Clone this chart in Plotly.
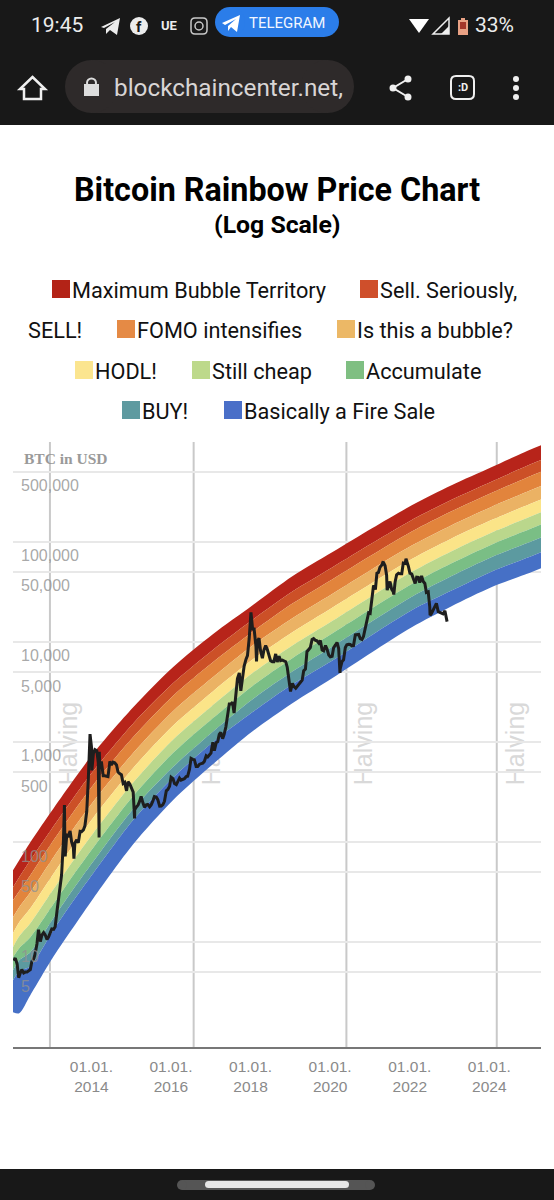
import pandas as pd
import plotly.graph_objects as go

W, H = 554, 1200
L_M, R_M, T_M, B_M = 13, 13, 442, 153
PW, PH = W - L_M - R_M, H - T_M - B_M

# ---------- data ----------
legend_names = ["Maximum Bubble Territory", "Sell. Seriously, SELL!", "FOMO intensifies", "Is this a bubble?",
                "HODL!", "Still cheap", "Accumulate", "BUY!", "Basically a Fire Sale"]
band_colors = ["#b7241a", "#cc5027", "#e2843c", "#ebb264", "#fbe488", "#bad78c", "#7abe85", "#5c9aa0", "#4670c6"]
legend_colors = ["#b32317", "#cf4f2b", "#e58a45", "#ecb866", "#fbe58f", "#bdd98b", "#7fbf82", "#5e9aa0", "#4a6fc8"]

edge_dates = ["2011-12-25", "2012-02-20", "2012-06-01", "2013-01-01", "2013-07-01", "2014-01-01", "2015-01-01",
              "2016-01-01", "2017-01-01", "2018-01-01", "2019-01-01", "2020-01-01", "2021-01-01", "2022-01-01",
              "2023-01-01", "2024-01-01", "2025-01-01", "2025-04-01"]
# log10(USD) of the ten band edges (top to bottom) at each date above
edges_2011_12 = [1.717, 1.547, 1.417, 1.247, 1.087, .947, .847, .717, .617, .297]
edges_2012_02 = [1.817, 1.647, 1.507, 1.347, 1.197, 1.057, .937, .817, .707, .287]
edges_2012_06 = [1.997, 1.817, 1.667, 1.497, 1.337, 1.187, 1.047, .897, .757, .467]
edges_2013_01 = [2.337, 2.159, 2.019, 1.849, 1.686, 1.530, 1.382, 1.242, 1.123, .857]
edges_2013_07 = [2.617, 2.441, 2.301, 2.132, 1.970, 1.816, 1.669, 1.529, 1.412, 1.147]
edges_2014 = [2.887, 2.712, 2.573, 2.405, 2.245, 2.091, 1.945, 1.807, 1.690, 1.437]
edges_2015 = [3.347, 3.185, 3.050, 2.890, 2.740, 2.595, 2.460, 2.330, 2.220, 1.977]
edges_2016 = [3.747, 3.587, 3.461, 3.308, 3.162, 3.022, 2.889, 2.749, 2.643, 2.417]
edges_2017 = [4.077, 3.921, 3.797, 3.648, 3.505, 3.368, 3.238, 3.102, 2.998, 2.777]
edges_2018 = [4.367, 4.223, 4.102, 3.965, 3.824, 3.689, 3.561, 3.427, 3.299, 3.107]
edges_2019 = [4.657, 4.505, 4.384, 4.238, 4.098, 3.965, 3.838, 3.704, 3.577, 3.387]
edges_2020 = [4.897, 4.746, 4.626, 4.481, 4.343, 4.210, 4.084, 3.952, 3.813, 3.637]
edges_2021 = [5.137, 4.988, 4.870, 4.728, 4.591, 4.461, 4.337, 4.207, 4.071, 3.897]
edges_2022 = [5.367, 5.221, 5.105, 4.964, 4.830, 4.702, 4.580, 4.452, 4.318, 4.147]
edges_2023 = [5.567, 5.422, 5.307, 5.168, 5.035, 4.908, 4.787, 4.659, 4.514, 4.357]
edges_2024 = [5.747, 5.603, 5.489, 5.351, 5.219, 5.093, 4.973, 4.847, 4.703, 4.547]
edges_2025_01 = [5.927, 5.779, 5.663, 5.521, 5.386, 5.257, 5.134, 5.004, 4.857, 4.697]
edges_2025_04 = [5.967, 5.819, 5.703, 5.561, 5.426, 5.297, 5.174, 5.044, 4.897, 4.737]
edge_rows = [edges_2011_12, edges_2012_02, edges_2012_06, edges_2013_01, edges_2013_07, edges_2014, edges_2015,
             edges_2016, edges_2017, edges_2018, edges_2019, edges_2020, edges_2021, edges_2022, edges_2023,
             edges_2024, edges_2025_01, edges_2025_04]

# BTC price on the 1st and 15th of each month
btc_2012 = [6.5, 6.9, 6.0, 4.4, 4.9, 5.3, 4.9, 5.0, 5.0, 5.1, 5.3, 6.4, 6.7, 7.6, 9.6, 13.3, 10.1, 11.7, 12.4, 11.8, 10.6, 11.2, 12.6, 13.5]
btc_2013 = [13.4, 14.2, 20.4, 27, 34, 47, 104, 82, 117, 115, 129, 100, 88, 98, 105, 98, 128, 127, 132, 145, 203, 420, 960, 880]
btc_2014 = [770, 840, 820, 620, 560, 640, 460, 460, 450, 450, 640, 590, 630, 620, 590, 500, 480, 470, 385, 395, 325, 400, 380, 345]
btc_2015 = [315, 210, 225, 235, 255, 285, 245, 222, 235, 237, 225, 235, 258, 285, 282, 265, 228, 229, 237, 255, 325, 335, 360, 445]
btc_2016 = [430, 385, 375, 405, 435, 415, 420, 430, 450, 455, 535, 685, 670, 665, 570, 570, 600, 607, 615, 640, 730, 710, 750, 775]
btc_2017 = [995, 820, 985, 1010, 1190, 1250, 1080, 1190, 1420, 1780, 2400, 2400, 2500, 1950, 2870, 4300, 4900, 3250, 4400, 5700, 6700, 7300, 10900, 17500]
btc_2018 = [13500, 13500, 9000, 10200, 10900, 8200, 6900, 8300, 9200, 8500, 7500, 6500, 6350, 6350, 7600, 6300, 7200, 6500, 6580, 6500, 6350, 5600, 4000, 3200]
btc_2019 = [3850, 3600, 3450, 3600, 3850, 3950, 4150, 5150, 5350, 8000, 8550, 8800, 10600, 10800, 10400, 10300, 9750, 10350, 8300, 8150, 9200, 8500, 7400, 7100]
btc_2020 = [7200, 8800, 9350, 9900, 8600, 5400, 6400, 6650, 8800, 9400, 9500, 9450, 9150, 9200, 11800, 11900, 11900, 10800, 10600, 11400, 13800, 16000, 19600, 19300]
btc_2021 = [29400, 36800, 33500, 48700, 49600, 55900, 58800, 63000, 57800, 46500, 36700, 40200, 33500, 31800, 39900, 47000, 48800, 48100, 48200, 61500, 60900, 65500, 57000, 48800]
btc_2022 = [47700, 43100, 38500, 44500, 44300, 39300, 45800, 40500, 38500, 31300, 31800, 22500, 19300, 20800, 23300, 24300, 20100, 19700, 19300, 19100, 20500, 16900]
# extremes between those dates
btc_spike_dates = ["2013-04-10", "2013-04-17", "2013-07-06", "2013-12-01", "2013-12-18", "2014-02-22", "2014-02-24", "2015-01-14",
                   "2017-12-17", "2018-02-06", "2018-12-15", "2020-03-13", "2021-04-14", "2021-05-20", "2021-07-20", "2021-11-09", "2022-06-18", "2022-11-21"]
btc_spike_prices = [234, 72, 68, 1200, 520, 111, 800, 172,
                    19800, 6400, 3200, 4900, 64000, 33000, 29800, 68000, 18500, 16000]

halving_dates = ["2012-11-28", "2016-07-09", "2020-05-11", "2024-02-20"]
y_grid = [5, 10, 50, 100, 500, 1000, 5000, 10000, 50000, 100000, 500000, 1000000]
y_labels = ["5", "10", "50", "100", "500", "1,000", "5,000", "10,000", "50,000", "100,000", "500,000"]
x_tick_dates = ["2014-01-01", "2016-01-01", "2018-01-01", "2020-01-01", "2022-01-01", "2024-01-01"]
x_tick_text = ["01.01.<br>2014", "01.01.<br>2016", "01.01.<br>2018", "01.01.<br>2020", "01.01.<br>2022", "01.01.<br>2024"]

# ---------- pixel helpers for the page furniture ----------
def X(p): return (p - L_M) / PW
def Y(p): return (H - B_M - p) / PH

shapes, annos = [], []

def rect(x0, y0, x1, y1, color, line=None, lw=0, layer="above"):
    shapes.append(dict(type="rect", xref="paper", yref="paper", x0=X(x0), x1=X(x1), y0=Y(y0), y1=Y(y1),
                       fillcolor=color, line=dict(color=line or color, width=lw), layer=layer))

def circ(cx, cy, r, color, line=None, lw=0):
    shapes.append(dict(type="circle", xref="paper", yref="paper", x0=X(cx - r), x1=X(cx + r), y0=Y(cy - r), y1=Y(cy + r),
                       fillcolor=color, line=dict(color=line or color, width=lw), layer="above"))

def poly(pts, color, line=None, lw=0, close=True):
    d = "M " + " L ".join(f"{X(a):.5f},{Y(b):.5f}" for a, b in pts) + (" Z" if close else "")
    shapes.append(dict(type="path", xref="paper", yref="paper", path=d, fillcolor=color,
                       line=dict(color=line or "rgba(0,0,0,0)", width=lw), layer="above"))

def round_box(x0, y0, x1, y1, r, line, lw):
    P = lambda a, b: f"{X(a):.5f},{Y(b):.5f}"
    d = (f"M {P(x0 + r, y0)} L {P(x1 - r, y0)} Q {P(x1, y0)} {P(x1, y0 + r)} L {P(x1, y1 - r)} Q {P(x1, y1)} {P(x1 - r, y1)} "
         f"L {P(x0 + r, y1)} Q {P(x0, y1)} {P(x0, y1 - r)} L {P(x0, y0 + r)} Q {P(x0, y0)} {P(x0 + r, y0)} Z")
    shapes.append(dict(type="path", xref="paper", yref="paper", path=d, fillcolor="rgba(0,0,0,0)",
                       line=dict(color=line, width=lw), layer="above"))

def pill(x0, y0, x1, y1, color):
    r = (y1 - y0) / 2
    rect(x0 + r, y0, x1 - r, y1, color)
    circ(x0 + r, y0 + r, r, color)
    circ(x1 - r, y0 + r, r, color)

def text(x, y, s, size, color, font="Roboto", anchor="left", bold=False):
    annos.append(dict(xref="paper", yref="paper", x=X(x), y=Y(y), text=f"<b>{s}</b>" if bold else s, showarrow=False,
                      xanchor=anchor, yanchor="middle", borderpad=0, font=dict(family=font, size=size, color=color)))

DARK = "#181818"
rect(0, 0, W, 125, DARK, layer="below")
rect(0, 1169, W, H, DARK, layer="below")

# status bar
text(30, 25, "19:45", 21, "#ececec")
poly([(101, 27), (120, 18), (117, 35), (110, 30), (106, 34), (106, 29), (115, 22), (104, 28)], "#ececec")
circ(139, 26, 9, "#ececec")
text(139, 27, "f", 15, DARK, anchor="center", bold=True)
text(160, 26, "UE", 13, "#ececec", bold=True)
round_box(191, 18, 207, 34, 4, "#c8c8c8", 1.5)
circ(199, 26, 4, "rgba(0,0,0,0)", line="#c8c8c8", lw=1.5)
pill(215, 7, 339, 37, "#2b7de9")
poly([(222, 23), (240, 15), (237, 32), (231, 27), (228, 31), (228, 26), (236, 19), (225, 25)], "#ffffff")
text(248, 23, "TELEGRAM", 15, "#f2f6ff")
poly([(409, 19), (429, 19), (419, 33)], "#ffffff")
poly([(449, 18), (449, 34), (433, 34)], "rgba(0,0,0,0)", line="#eeeeee", lw=1.5)
poly([(449, 26), (449, 34), (441, 34)], "#eeeeee")
rect(458, 20, 468, 35, "#e9a184")
rect(461, 18, 465, 20, "#e9a184")
rect(460, 22, 466, 29, "#a5362a")
text(474, 25, "33%", 21, "#ececec")

# browser bar
poly([(32.5, 77), (45, 89), (41, 89), (41, 99), (24, 99), (24, 89), (20, 89)], "rgba(0,0,0,0)", line="#efefef", lw=2.5)
pill(65, 60, 354, 113, "#2e2a2a")
circ(91.5, 83, 4.5, "rgba(0,0,0,0)", line="#dddddd", lw=2)
rect(84, 84, 99, 96, "#dddddd")
text(113, 88, "blockchaincenter.net,", 24.3, "#d8d5d5")
poly([(408, 79), (393, 88), (408, 97)], "rgba(0,0,0,0)", line="#efefef", lw=2, close=False)
for cy, cx in [(79, 408), (88, 393), (97, 408)]:
    circ(cx, cy, 3.5, "#efefef")
round_box(451, 76, 474, 99, 5, "#efefef", 2)
text(462.5, 88, ":D", 11, "#efefef", anchor="center", bold=True)
for cy in [79, 88, 97]:
    circ(516, cy, 3, "#efefef")

# gesture bar
pill(177, 1180, 375, 1190, "#555555")
pill(205, 1181, 349, 1188, "#e6e6e6")

# titles
text(277, 190, "Bitcoin Rainbow Price Chart", 32.3, "#000000", anchor="center", bold=True)
text(277, 224, "(Log Scale)", 24.8, "#000000", anchor="center", bold=True)

# legend, laid out in rows as the browser wrapped it
legend_rows = [
    (290, [(52, 0, legend_names[0]), (360, 1, "Sell. Seriously,")]),
    (330, [(None, None, "SELL!"), (117, 2, legend_names[2]), (337, 3, legend_names[3])]),
    (371, [(75, 4, legend_names[4]), (192, 5, legend_names[5]), (346, 6, legend_names[6])]),
    (411, [(122, 7, legend_names[7]), (224, 8, legend_names[8])]),
]
for cy, items in legend_rows:
    for sx, ci, label in items:
        if sx is None:
            text(27, cy, label, 21.7, "#111111")
        else:
            rect(sx, cy - 10, sx + 18, cy + 8, legend_colors[ci])
            text(sx + 19, cy, label, 21.7, "#111111")

# y labels sit just below their grid lines
y_label_px = [986, 956, 886, 856, 786, 755, 686, 655, 585, 555, 485]
for lab, py in zip(y_labels, y_label_px):
    text(19.5, py, lab, 16, "rgba(145,145,145,0.8)", font="Liberation Sans")
text(23, 458, "BTC in USD", 15.5, "#9a9a9a", font="Liberation Serif", bold=True)

# halving lines + rotated captions, under the rainbow
for d in halving_dates:
    shapes.append(dict(type="line", xref="x", yref="paper", x0=d, x1=d, y0=0, y1=1,
                       line=dict(color="#c9c9c9", width=2), layer="below"))
for cx in [66, 209, 361, 513]:
    shapes.append(dict(type="rect", xref="paper", yref="paper", x0=X(cx - 10), x1=X(cx + 10), y0=Y(786), y1=Y(701),
                       line=dict(width=0), fillcolor="rgba(0,0,0,0)", layer="below",
                       label=dict(text="Halving", textangle=-90, textposition="middle center",
                                  font=dict(family="Liberation Sans", size=25, color="#d9d9d9"))))

# ---------- traces ----------
fig = go.Figure()
n_edges = len(edge_rows[0])
for k in range(n_edges):
    usd = [10 ** row[k] for row in edge_rows]
    col = band_colors[k - 1] if k else band_colors[0]
    fig.add_trace(go.Scatter(x=edge_dates, y=usd, mode="lines",
                             line=dict(width=0, shape="spline", smoothing=0.8, simplify=False),
                             fill="tonexty" if k else None, fillcolor=col, hoverinfo="skip", showlegend=False))

btc_close = btc_2012 + btc_2013 + btc_2014 + btc_2015 + btc_2016 + btc_2017 + btc_2018 + btc_2019 + btc_2020 + btc_2021 + btc_2022
base = pd.Series(btc_close, index=pd.date_range("2012-01-01", periods=len(btc_close), freq="SMS"))
extra = pd.Series(btc_spike_prices, index=pd.to_datetime(btc_spike_dates))
btc = pd.concat([base, extra]).sort_index()
fig.add_trace(go.Scatter(x=btc.index, y=btc.values, mode="lines", line=dict(color="#1e1e1e", width=3),
                         hoverinfo="skip", showlegend=False))

fig.update_layout(
    width=W, height=H, autosize=False, margin=dict(l=L_M, r=R_M, t=T_M, b=B_M, pad=0),
    paper_bgcolor="#ffffff", plot_bgcolor="#ffffff", showlegend=False,
    shapes=shapes, annotations=annos,
    xaxis=dict(type="date", range=["2011-12-25", "2025-04-01"], showgrid=False, zeroline=False,
               tickmode="array", tickvals=x_tick_dates, ticktext=x_tick_text, ticks="", ticklabelstandoff=4, ticklabelshift=-2,
               tickfont=dict(family="Liberation Sans", size=15.5, color="#8a8a8a"),
               showline=True, linecolor="#777777", linewidth=2),
    yaxis=dict(type="log", range=[-0.05, 6], showgrid=True, gridcolor="#e8e8e8", gridwidth=1.5, zeroline=False,
               tickmode="array", tickvals=y_grid, showticklabels=False, ticks="", showline=False),
)

fig.write_html("out.html", config={"displayModeBar": False}, post_script="document.body.style.margin='0';")
